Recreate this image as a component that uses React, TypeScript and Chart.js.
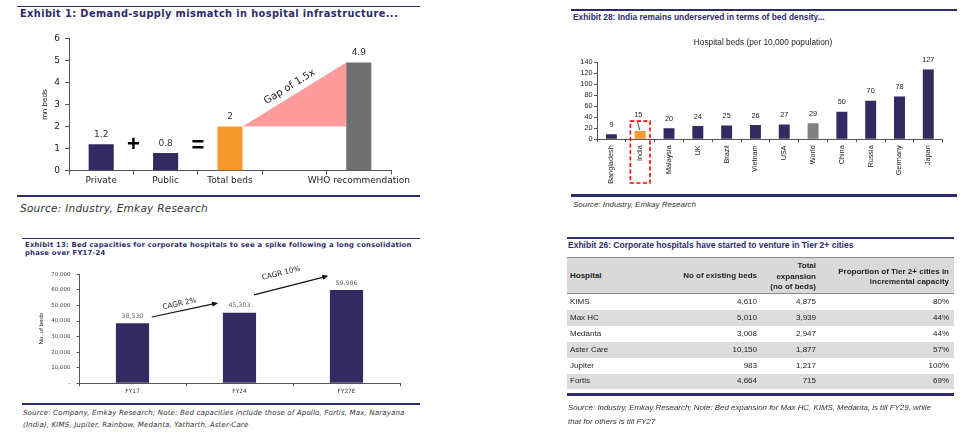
import React, { useEffect, useRef } from 'react';
import { Chart, registerables } from 'chart.js';

Chart.register(...registerables);

// ---------------- Data ----------------
// Exhibit 1
const ex1Categories = ['Private', 'Public', 'Total beds', '', 'WHO recommendation'];
const ex1Values: (number | null)[] = [1.2, 0.8, 2, null, 4.9];
const ex1YTicks = [0, 1, 2, 3, 4, 5, 6];
const ex1GapLabel = 'Gap of 1.5x';

// Exhibit 28
const ex28Countries = ['Bangladesh', 'India', 'Malaysia', 'UK', 'Brazil', 'Vietnam', 'USA', 'World', 'China', 'Russia', 'Germany', 'Japan'];
const ex28Beds = [9, 15, 20, 24, 25, 26, 27, 29, 50, 70, 78, 127];
const ex28YTicks = [0, 20, 40, 60, 80, 100, 120, 140];

// Exhibit 13
const ex13Years = ['FY17', 'FY24', 'FY27E'];
const ex13Beds = [38530, 45303, 59986];
const ex13YTicks = [0, 10000, 20000, 30000, 40000, 50000, 60000, 70000];
const ex13CagrLabels = ['CAGR 2%', 'CAGR 10%'];

// Exhibit 26
const ex26Hospitals = ['KIMS', 'Max HC', 'Medanta', 'Aster Care', 'Jupiter', 'Fortis'];
const ex26Existing = [4610, 5010, 3008, 10150, 983, 4664];
const ex26Expansion = [4875, 3939, 2947, 1877, 1217, 715];
const ex26Tier2Share = [80, 44, 44, 57, 100, 69];

// ---------------- Styles ----------------
const VERDANA = '"DejaVu Sans", Verdana, sans-serif';
const TAHOMA = '"Liberation Sans", Arial, sans-serif';
const NAVY = '#322A60';
const RULE = '#2E2B6B';
const ORANGE = '#F7992F';
const WHO_GRAY = '#707070';
const WORLD_GRAY = '#808080';
const PINK = '#FF9B9B';
const AXIS = '#555555';
const ex1Colors = [NAVY, NAVY, ORANGE, 'rgba(0,0,0,0)', WHO_GRAY];
const ex28Colors = ex28Countries.map((c) => (c === 'India' ? ORANGE : c === 'World' ? WORLD_GRAY : NAVY));

const fmt = (n: number) => new Intl.NumberFormat('en-US').format(n);

// ---------------- Chart configs ----------------
function drawArrow(ctx: CanvasRenderingContext2D, x1: number, y1: number, x2: number, y2: number) {
  const ang = Math.atan2(y2 - y1, x2 - x1);
  const head = 6;
  ctx.save();
  ctx.strokeStyle = '#111';
  ctx.fillStyle = '#111';
  ctx.lineWidth = 1.2;
  ctx.beginPath();
  ctx.moveTo(x1, y1);
  ctx.lineTo(x2 - head * 0.8 * Math.cos(ang), y2 - head * 0.8 * Math.sin(ang));
  ctx.stroke();
  ctx.beginPath();
  ctx.moveTo(x2, y2);
  ctx.lineTo(x2 - head * Math.cos(ang) + 2.6 * Math.sin(ang), y2 - head * Math.sin(ang) - 2.6 * Math.cos(ang));
  ctx.lineTo(x2 - head * Math.cos(ang) - 2.6 * Math.sin(ang), y2 - head * Math.sin(ang) + 2.6 * Math.cos(ang));
  ctx.closePath();
  ctx.fill();
  ctx.restore();
}

const ex1Plugin = {
  id: 'ex1Annotations',
  beforeDatasetsDraw(chart: any) {
    const bars = chart.getDatasetMeta(0).data;
    const total = bars[2];
    const who = bars[4];
    const ctx = chart.ctx as CanvasRenderingContext2D;
    const x1 = total.x + total.width / 2;
    const y1 = total.y;
    const x2 = who.x - who.width / 2;
    const y2 = who.y;
    ctx.save();
    ctx.fillStyle = PINK;
    ctx.beginPath();
    ctx.moveTo(x1, y1);
    ctx.lineTo(x2, y2);
    ctx.lineTo(x2, y1);
    ctx.closePath();
    ctx.fill();
    // gap label along the hypotenuse
    const dx = x2 - x1;
    const dy = y2 - y1;
    const len = Math.hypot(dx, dy);
    const mx = (x1 + x2) / 2 + (9 * dy) / len;
    const my = (y1 + y2) / 2 - (9 * dx) / len;
    ctx.translate(mx, my);
    ctx.rotate(Math.atan2(dy, dx));
    ctx.fillStyle = '#222';
    ctx.font = `10px ${VERDANA}`;
    ctx.textAlign = 'center';
    ctx.textBaseline = 'middle';
    ctx.fillText(ex1GapLabel, 0, 0);
    ctx.restore();
  },
  afterDatasetsDraw(chart: any) {
    const bars = chart.getDatasetMeta(0).data;
    const ctx = chart.ctx as CanvasRenderingContext2D;
    const y = chart.scales.y;
    ctx.save();
    ctx.fillStyle = '#333';
    ctx.font = `9px ${VERDANA}`;
    ctx.textAlign = 'center';
    ctx.textBaseline = 'middle';
    ex1Values.forEach((v, i) => {
      if (v === null) return;
      ctx.fillText(String(v), bars[i].x, bars[i].y - 9.5);
    });
    ctx.fillStyle = '#000';
    ctx.font = `bold 22px ${TAHOMA}`;
    ctx.fillText('+', (bars[0].x + bars[1].x) / 2, y.getPixelForValue(1.15));
    ctx.fillText('=', (bars[1].x + bars[2].x) / 2, y.getPixelForValue(1.1));
    ctx.restore();
  },
};

function makeEx1(): any {
  return {
    type: 'bar',
    data: {
      labels: ex1Categories,
      datasets: [{ data: ex1Values, backgroundColor: ex1Colors, barPercentage: 0.39, categoryPercentage: 1 }],
    },
    options: {
      animation: false,
      responsive: false,
      layout: { padding: { top: 13.3, right: 29, left: 0, bottom: 0 } },
      plugins: { legend: { display: false }, tooltip: { enabled: false } },
      scales: {
        x: {
          grid: { display: true, drawOnChartArea: false, drawTicks: true, tickLength: 4, color: AXIS, offset: true },
          border: { display: true, color: AXIS },
          ticks: { font: { family: VERDANA, size: 9 }, color: '#222', padding: 1, autoSkip: false, maxRotation: 0 },
          afterFit: (s: any) => { s.height = 19.3; },
        },
        y: {
          min: 0,
          max: 6,
          afterBuildTicks: (s: any) => { s.ticks = ex1YTicks.map((v) => ({ value: v })); },
          ticks: { font: { family: VERDANA, size: 9 }, color: '#222', padding: 5, autoSkip: false },
          grid: { display: true, drawOnChartArea: false, drawTicks: true, tickLength: 4, color: AXIS },
          border: { display: true, color: AXIS },
          title: { display: true, text: 'mn beds', font: { family: TAHOMA, size: 8 }, color: '#222', padding: { top: 19.7, bottom: 0 } },
          afterFit: (s: any) => { s.width = 49; },
        },
      },
    },
    plugins: [ex1Plugin],
  };
}

const ex28Plugin = {
  id: 'ex28Annotations',
  afterDatasetsDraw(chart: any) {
    const bars = chart.getDatasetMeta(0).data;
    const ctx = chart.ctx as CanvasRenderingContext2D;
    const xs = chart.scales.x;
    const ys = chart.scales.y;
    ctx.save();
    ctx.fillStyle = '#222';
    ctx.textAlign = 'center';
    ctx.textBaseline = 'middle';
    ctx.font = `8.3px ${TAHOMA}`;
    ctx.fillText('Hospital beds (per 10,000 population)', chart.width / 2, 15);
    ctx.font = `7.3px ${TAHOMA}`;
    const india = ex28Countries.indexOf('India');
    ex28Beds.forEach((v, i) => {
      const off = i === india ? 16 : 9.5;
      ctx.fillText(String(v), bars[i].x - (i === india ? 2 : 0), bars[i].y - off);
    });
    // leader line for India
    const b = bars[india];
    ctx.strokeStyle = '#222';
    ctx.lineWidth = 0.8;
    ctx.beginPath();
    ctx.moveTo(b.x - 3, b.y - 10.5);
    ctx.lineTo(b.x - 0.5, b.y - 1);
    ctx.stroke();
    // dashed highlight box
    const cat = xs.getPixelForValue(1) - xs.getPixelForValue(0);
    ctx.strokeStyle = '#FF0000';
    ctx.lineWidth = 1.6;
    ctx.setLineDash([4, 2.5]);
    const top = ys.getPixelForValue(33);
    const bottom = xs.bottom - 7;
    ctx.strokeRect(b.x - cat * 0.34, top, cat * 0.68, bottom - top);
    ctx.restore();
  },
};

function makeEx28(): any {
  return {
    type: 'bar',
    data: {
      labels: ex28Countries,
      datasets: [{ data: ex28Beds, backgroundColor: ex28Colors, barPercentage: 0.38, categoryPercentage: 1 }],
    },
    options: {
      animation: false,
      responsive: false,
      layout: { padding: { top: 34.3, right: 23.3, left: 0, bottom: 0 } },
      plugins: { legend: { display: false }, tooltip: { enabled: false } },
      scales: {
        x: {
          grid: { display: true, drawOnChartArea: false, drawTicks: true, tickLength: 3, color: AXIS, offset: true },
          border: { display: true, color: AXIS },
          ticks: { font: { family: TAHOMA, size: 7.3 }, color: '#222', padding: 3, autoSkip: false, minRotation: 90, maxRotation: 90 },
          afterFit: (s: any) => { s.height = 50.7; },
        },
        y: {
          min: 0,
          max: 140,
          afterBuildTicks: (s: any) => { s.ticks = ex28YTicks.map((v) => ({ value: v })); },
          ticks: { font: { family: TAHOMA, size: 7.3 }, color: '#222', padding: 1.5, autoSkip: false },
          grid: { display: true, drawOnChartArea: false, drawTicks: true, tickLength: 3, color: AXIS },
          border: { display: true, color: AXIS },
          afterFit: (s: any) => { s.width = 37; },
        },
      },
    },
    plugins: [ex28Plugin],
  };
}

// arrow geometry in data units (category index, beds)
const ex13ArrowGeom = [
  { from: [0.18, 42600], to: [0.8, 51600], label: [0.44, 51000] },
  { from: [1.135, 56800], to: [1.83, 69000], label: [1.39, 70600] },
];

const ex13Plugin = {
  id: 'ex13Annotations',
  afterDatasetsDraw(chart: any) {
    const bars = chart.getDatasetMeta(0).data;
    const ctx = chart.ctx as CanvasRenderingContext2D;
    const xs = chart.scales.x;
    const ys = chart.scales.y;
    ctx.save();
    ctx.fillStyle = '#666';
    ctx.textAlign = 'center';
    ctx.textBaseline = 'middle';
    ctx.font = `6.3px ${VERDANA}`;
    ex13Beds.forEach((v, i) => {
      ctx.fillText(fmt(v), bars[i].x, bars[i].y - 7);
    });
    ex13ArrowGeom.forEach((g, i) => {
      const x1 = xs.getPixelForValue(g.from[0]);
      const y1 = ys.getPixelForValue(g.from[1]);
      const x2 = xs.getPixelForValue(g.to[0]);
      const y2 = ys.getPixelForValue(g.to[1]);
      drawArrow(ctx, x1, y1, x2, y2);
      const lx = xs.getPixelForValue(g.label[0]);
      const ly = ys.getPixelForValue(g.label[1]);
      ctx.save();
      ctx.translate(lx, ly);
      ctx.rotate(Math.atan2(y2 - y1, x2 - x1) * 0.95);
      ctx.fillStyle = '#222';
      ctx.font = `7.3px ${VERDANA}`;
      ctx.fillText(ex13CagrLabels[i], 0, 0);
      ctx.restore();
    });
    ctx.restore();
  },
};

function makeEx13(): any {
  return {
    type: 'bar',
    data: {
      labels: ex13Years,
      datasets: [{ data: ex13Beds, backgroundColor: NAVY, barPercentage: 0.31, categoryPercentage: 1 }],
    },
    options: {
      animation: false,
      responsive: false,
      layout: { padding: { top: 12.3, right: 20, left: 0, bottom: 0 } },
      plugins: { legend: { display: false }, tooltip: { enabled: false } },
      scales: {
        x: {
          grid: { display: true, drawOnChartArea: false, drawTicks: true, tickLength: 3, color: AXIS, offset: true },
          border: { display: true, color: AXIS },
          ticks: { font: { family: VERDANA, size: 5.8 }, color: '#333', padding: 2, autoSkip: false, maxRotation: 0 },
          afterFit: (s: any) => { s.height = 18.7; },
        },
        y: {
          min: 0,
          max: 70000,
          afterBuildTicks: (s: any) => { s.ticks = ex13YTicks.map((v) => ({ value: v })); },
          ticks: { font: { family: VERDANA, size: 5.5 }, color: '#444', padding: 6, autoSkip: false, callback: (v: number) => (v === 0 ? '-' : fmt(v)) },
          grid: { display: true, drawOnChartArea: false, drawTicks: true, tickLength: 2.5, color: AXIS },
          border: { display: true, color: AXIS },
          title: { display: true, text: 'No. of beds', font: { family: TAHOMA, size: 6.2 }, color: '#222', padding: { top: 17.3, bottom: 0 } },
          afterFit: (s: any) => { s.width = 59; },
        },
      },
    },
    plugins: [ex13Plugin],
  };
}

// ---------------- Components ----------------
function ChartBox({ left, top, width, height, make }: { left: number; top: number; width: number; height: number; make: () => any }) {
  const ref = useRef<HTMLCanvasElement>(null);
  useEffect(() => {
    const chart = new Chart(ref.current as HTMLCanvasElement, make());
    return () => chart.destroy();
  }, []);
  return (
    <div style={{ position: 'absolute', left, top, width, height }}>
      <canvas ref={ref} width={width} height={height} style={{ width, height, display: 'block' }} />
    </div>
  );
}

type TP = {
  x: number; y: number; size: number; family?: string; bold?: boolean; italic?: boolean; ls?: number;
  color?: string; align?: 'left' | 'right' | 'center'; children: React.ReactNode;
};
function T({ x, y, size, family = TAHOMA, bold, italic, ls = 0, color = '#222', align = 'left', children }: TP) {
  const lh = Math.round(size * 1.3);
  const w = 560;
  const left = align === 'left' ? x : align === 'right' ? x - w : x - w / 2;
  return (
    <div
      style={{
        position: 'absolute', left, top: y - lh / 2, width: w, height: lh, lineHeight: `${lh}px`,
        fontSize: size, fontFamily: family, fontWeight: bold ? 700 : 400, fontStyle: italic ? 'italic' : 'normal',
        letterSpacing: ls, color, textAlign: align, whiteSpace: 'nowrap',
      }}
    >
      {children}
    </div>
  );
}

function Rule({ x1, x2, y, h, color = RULE }: { x1: number; x2: number; y: number; h: number; color?: string }) {
  return <div style={{ position: 'absolute', left: x1, top: y, width: x2 - x1, height: h, background: color }} />;
}

function Table26() {
  const rowH = 15.9;
  const top0 = 294;
  return (
    <>
      <div style={{ position: 'absolute', left: 567, top: 257.3, width: 387, height: 36.7, background: '#D9D9D9', borderTop: '1px solid #8C8C8C', borderBottom: '1px solid #8C8C8C', boxSizing: 'border-box' }} />
      <T x={570} y={276} size={8} bold>Hospital</T>
      <T x={757} y={276} size={8} bold align="right">No of existing beds</T>
      <T x={816} y={266} size={8} bold align="right">Total</T>
      <T x={816} y={276.7} size={8} bold align="right">expansion</T>
      <T x={816} y={287.3} size={8} bold align="right">(no of beds)</T>
      <T x={949} y={271.7} size={8} bold align="right">Proportion of Tier 2+ cities in</T>
      <T x={949} y={282.3} size={8} bold align="right">incremental capacity</T>
      {ex26Hospitals.map((h, i) => {
        const top = top0 + i * rowH;
        const cy = top + rowH / 2;
        return (
          <React.Fragment key={h}>
            {i % 2 === 1 && <div style={{ position: 'absolute', left: 567, top, width: 387, height: rowH, background: '#DCDCDC' }} />}
            <T x={570} y={cy} size={8}>{h}</T>
            <T x={757} y={cy} size={8} align="right">{fmt(ex26Existing[i])}</T>
            <T x={816} y={cy} size={8} align="right">{fmt(ex26Expansion[i])}</T>
            <T x={949} y={cy} size={8} align="right">{`${ex26Tier2Share[i]}%`}</T>
          </React.Fragment>
        );
      })}
    </>
  );
}

export default function App() {
  return (
    <div style={{ position: 'fixed', left: 0, top: 0, width: 976, height: 443, background: '#fff', overflow: 'hidden' }}>
      {/* Exhibit 1 */}
      <Rule x1={17} x2={420} y={5.5} h={1.2} />
      <T x={20} y={13.3} size={9.8} ls={0.4} family={VERDANA} bold color={RULE}>Exhibit 1: Demand-supply mismatch in hospital infrastructure...</T>
      <ChartBox left={20} top={25} width={400} height={165} make={makeEx1} />
      <Rule x1={17} x2={420} y={194.7} h={2.7} />
      <T x={20} y={207.7} size={10.5} ls={0.25} family={VERDANA} italic color="#333">Source: Industry, Emkay Research</T>

      {/* Exhibit 28 */}
      <Rule x1={571} x2={957} y={8.7} h={2} />
      <T x={573} y={17} size={8.4} bold color={RULE}>Exhibit 28: India remains underserved in terms of bed density...</T>
      <ChartBox left={560} top={28} width={406} height={162} make={makeEx28} />
      <Rule x1={571} x2={957} y={194.3} h={2.4} />
      <T x={573} y={205} size={8} italic color="#333">Source: Industry, Emkay Research</T>

      {/* Exhibit 13 */}
      <Rule x1={22} x2={420} y={238} h={1.3} />
      <T x={25} y={245} size={6.8} ls={0.25} family={VERDANA} bold color={RULE}>Exhibit 13: Bed capacities for corporate hospitals to see a spike following a long consolidation</T>
      <T x={25} y={253} size={6.8} ls={0.25} family={VERDANA} bold color={RULE}>phase over FY17-24</T>
      <ChartBox left={20} top={262} width={400} height={140} make={makeEx13} />
      <Rule x1={22} x2={420} y={402.7} h={2} />
      <T x={23} y={412.7} size={7.1} ls={0.12} family={VERDANA} italic color="#333">Source: Company, Emkay Research; Note: Bed capacities include those of Apollo, Fortis, Max, Narayana</T>
      <T x={23} y={424} size={7.1} ls={0.12} family={VERDANA} italic color="#333">(India), KIMS, Jupiter, Rainbow, Medanta, Yatharth, Aster-Care</T>

      {/* Exhibit 26 */}
      <Rule x1={567} x2={954} y={236.7} h={2} />
      <T x={568} y={245} size={8.5} bold color={RULE}>Exhibit 26: Corporate hospitals have started to venture in Tier 2+ cities</T>
      <Table26 />
      <Rule x1={567} x2={954} y={393.3} h={2.3} />
      <T x={568} y={407.7} size={7.9} italic color="#333">Source: Industry, Emkay Research; Note: Bed expansion for Max HC, KIMS, Medanta, is till FY29, while</T>
      <T x={568} y={422.3} size={7.9} italic color="#333">that for others is till FY27</T>
    </div>
  );
}
